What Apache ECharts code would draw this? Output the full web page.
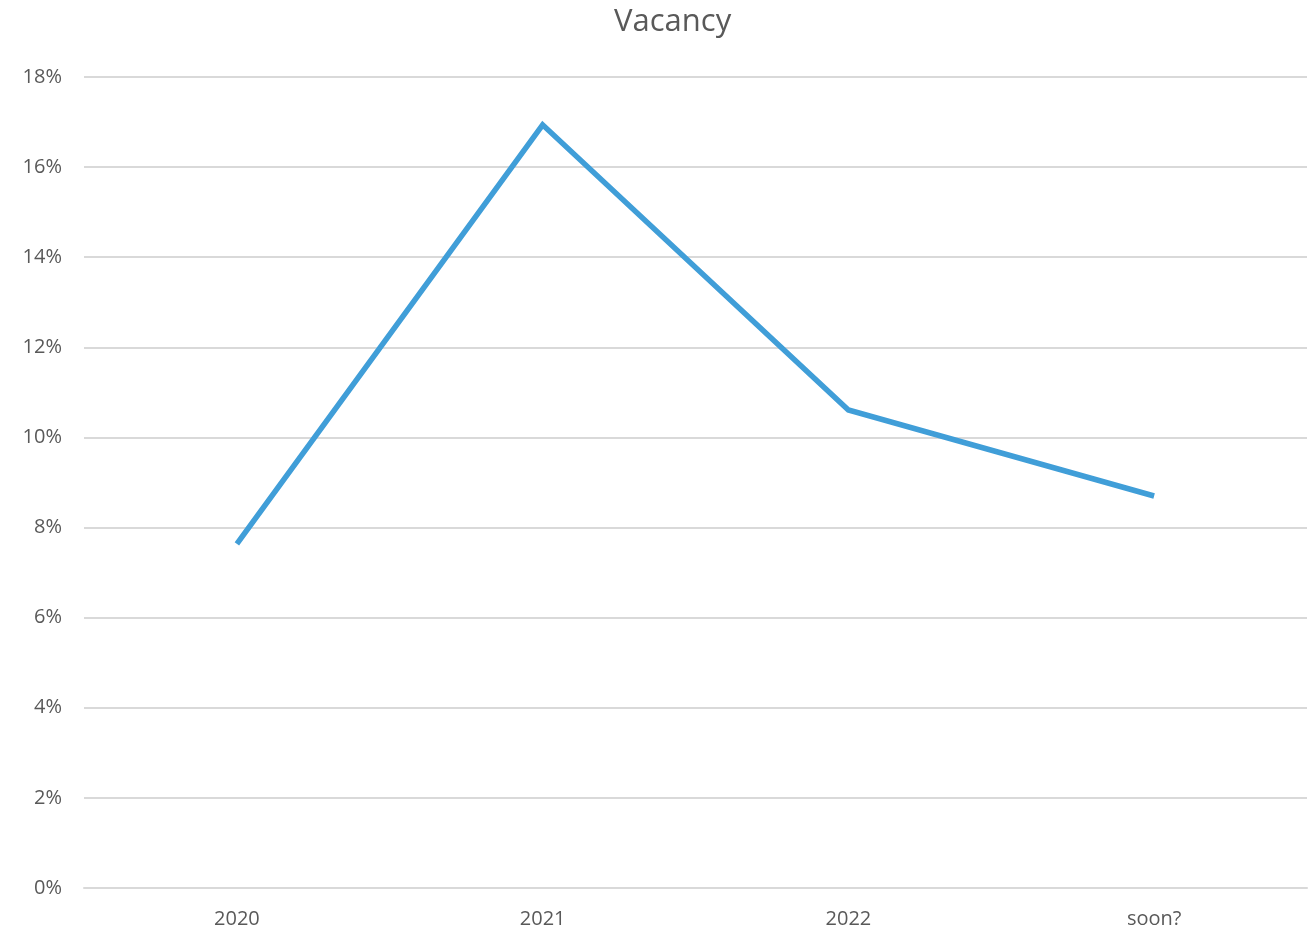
<!DOCTYPE html>
<html>
<head>
<meta charset="UTF-8">
<title>Vacancy</title>
<script src="https://cdn.jsdelivr.net/npm/echarts@6/dist/echarts.min.js"></script>
<style>
  body { margin: 0; background: #fff; overflow: hidden; }
  #chart { width: 1313px; height: 933px; }
</style>
</head>
<body>
<div id="chart"></div>
<script>
// Data
const years = ['2020', '2021', '2022', 'soon?']
const vacancy = [7.64, 16.94, 10.61, 8.70]

const FONT = 'Open Sans, Liberation Sans, sans-serif'

const chart = echarts.init(document.getElementById('chart'))
chart.setOption({
  animation: false,
  title: {
    text: 'Vacancy',
    left: 609,
    top: 2,
    textStyle: { color: '#595959', fontSize: 31, fontWeight: 'normal', fontFamily: FONT }
  },
  grid: { left: 84, right: 6, top: 77, bottom: 45, containLabel: false },
  xAxis: {
    type: 'category',
    data: years,
    boundaryGap: true,
    axisLine: { lineStyle: { color: '#d9d9d9', width: 2 } },
    axisTick: { show: false },
    axisLabel: { color: '#595959', fontSize: 20, fontFamily: FONT, margin: 21 }
  },
  yAxis: {
    type: 'value',
    min: 0,
    max: 18,
    interval: 2,
    axisLine: { show: false },
    axisTick: { show: false },
    axisLabel: { color: '#595959', fontSize: 20, fontFamily: FONT, margin: 22, formatter: '{value}%' },
    splitLine: { lineStyle: { color: '#d9d9d9', width: 2 } }
  },
  series: [{
    type: 'line',
    data: vacancy,
    symbol: 'none',
    lineStyle: { color: '#409ed8', width: 5.5, join: 'miter' }
  }]
})
</script>
</body>
</html>
